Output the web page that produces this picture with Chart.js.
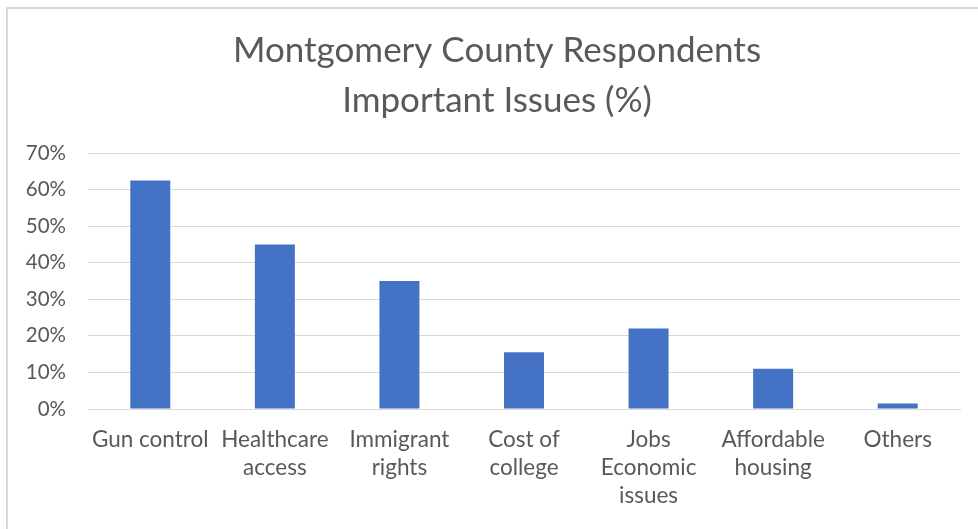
<!DOCTYPE html>
<html>
<head>
<meta charset="utf-8">
<script src="https://cdn.jsdelivr.net/npm/chart.js@4/dist/chart.umd.min.js"></script>
<style>
  html, body { margin: 0; padding: 0; background: #fff; overflow: hidden; }
  #frame {
    position: absolute; left: 6px; top: 7px; width: 980px; height: 530px;
    border-left: 2px solid #d9d9d9; border-top: 2px solid #d9d9d9;
  }
  #wrap { position: absolute; left: 0; top: 0; width: 978px; height: 529px; }
</style>
</head>
<body>
<div id="frame"></div>
<div id="wrap"><canvas id="chart"></canvas></div>
<script>
const categories = [
    ['Gun control'],
    ['Healthcare', 'access'],
    ['Immigrant', 'rights'],
    ['Cost of', 'college'],
    ['Jobs', 'Economic', 'issues'],
    ['Affordable', 'housing'],
    ['Others']
];
const shares = [62.5, 45, 35, 15.5, 22, 11, 1.5];
const titleLines = ['Montgomery County Respondents', 'Important Issues (%)'];

const textGray = '#595959';
const gridGray = '#d9d9d9';

// Title drawn by hand so it can sit a little right of the canvas centre, as in the reference
const titlePlugin = {
    id: 'offsetTitle',
    afterDraw(chart) {
        const c = chart.ctx;
        c.save();
        c.fillStyle = textGray;
        c.font = '35px Lato';
        c.textAlign = 'center';
        c.textBaseline = 'middle';
        titleLines.forEach((line, i) => c.fillText(line, 497, 51 + i * 50));
        c.restore();
    }
};

const ctx = document.getElementById('chart').getContext('2d');
const chart = new Chart(ctx, {
    type: 'bar',
    data: {
        labels: categories,
        datasets: [{
            data: shares,
            backgroundColor: '#4472c4',
            borderWidth: 0,
            barPercentage: 0.321,
            categoryPercentage: 1
        }]
    },
    options: {
        responsive: true,
        maintainAspectRatio: false,
        animation: false,
        layout: { padding: { left: 0, right: 18, top: 153, bottom: 0 } },
        plugins: {
            legend: { display: false },
            tooltip: { enabled: false },
            title: { display: false }
        },
        scales: {
            x: {
                grid: { display: false, drawTicks: false },
                border: { display: true, color: gridGray, width: 1 },
                ticks: {
                    color: textGray,
                    font: { family: 'Lato', size: 22.5, lineHeight: 1.245 },
                    padding: 17,
                    maxRotation: 0,
                    autoSkip: false
                },
                afterFit: (scale) => { scale.height = 120; }
            },
            y: {
                min: 0,
                max: 70,
                grid: { color: gridGray, lineWidth: 1, drawTicks: false },
                border: { display: false },
                ticks: {
                    stepSize: 10,
                    color: textGray,
                    font: { family: 'Lato', size: 20.5 },
                    padding: 22,
                    callback: (v) => v + '%'
                },
                afterFit: (scale) => { scale.width = 88; }
            }
        }
    },
    plugins: [titlePlugin]
});
</script>
</body>
</html>
